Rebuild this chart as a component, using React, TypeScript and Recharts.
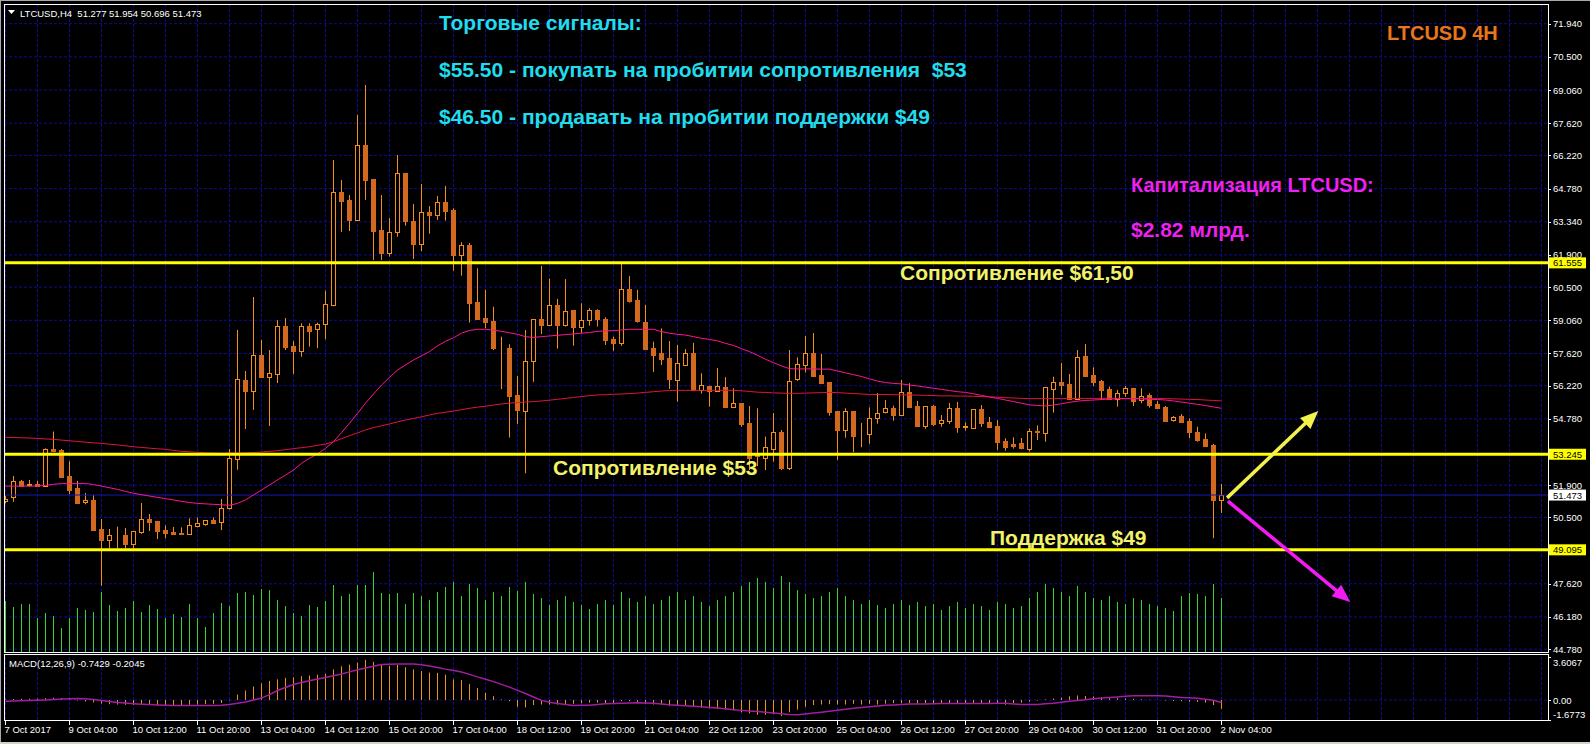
import React from 'react';
import { ComposedChart, Bar, Line, XAxis, YAxis, CartesianGrid, ReferenceLine } from 'recharts';

// ---------- DATA ----------
const OPEN = [51.20,51.37,52.07,51.93,51.95,51.88,53.49,53.43,52.31,51.78,51.16,51.26,50.00,49.53,49.72,49.74,49.36,49.88,50.43,50.35,
49.95,49.88,49.82,49.77,50.14,50.23,50.37,50.30,50.90,53.05,56.47,56.00,57.55,56.61,56.74,58.81,57.96,57.74,58.81,58.67,
58.89,59.73,64.62,64.29,63.43,66.66,65.20,62.97,61.99,62.91,65.44,63.38,62.39,63.75,63.65,64.19,63.85,61.91,62.32,59.85,
59.15,59.03,57.90,57.85,55.82,55.14,57.28,59.10,58.86,59.71,58.86,59.50,58.79,59.09,59.50,59.10,58.25,58.09,60.43,59.94,
58.99,57.86,57.64,57.43,56.48,57.13,57.63,56.04,56.20,55.98,56.15,55.28,55.46,54.60,53.30,53.07,53.47,54.21,52.66,56.50,
57.13,57.63,56.67,56.37,55.12,54.31,55.11,54.11,54.11,54.80,55.07,55.24,54.96,55.93,55.34,54.47,55.34,54.59,54.70,55.24,
54.44,54.40,55.20,54.64,54.47,53.82,53.70,53.73,53.46,54.25,54.18,56.09,56.38,56.30,55.63,57.51,56.69,56.43,56.08,55.66,
55.89,56.11,55.60,55.82,55.43,55.31,54.72,54.91,54.69,54.21,53.91,53.65,51.277];
const HIGH = [51.43,52.30,52.13,52.13,52.09,53.50,54.23,53.47,52.94,52.09,51.56,51.48,50.43,50.00,50.10,50.04,49.91,51.13,50.65,50.35,
50.16,50.09,50.07,50.46,50.50,50.37,50.50,51.30,53.47,58.64,56.86,60.07,58.21,57.77,59.07,59.16,58.16,58.93,58.93,58.96,
60.35,66.02,65.15,64.50,67.98,69.28,65.20,64.50,63.50,66.24,65.44,64.11,64.98,64.02,64.46,64.89,63.92,62.45,62.42,61.32,
60.38,59.65,58.35,58.02,56.64,58.64,59.10,61.42,60.87,59.99,60.85,59.51,59.80,59.59,59.54,59.19,58.35,61.54,60.98,60.38,
59.73,58.13,58.71,58.16,57.99,57.81,58.08,56.76,56.22,56.99,56.59,56.11,55.46,55.34,55.24,54.01,55.03,54.30,57.77,57.45,
58.38,58.51,57.60,56.37,55.12,55.24,55.11,54.61,55.28,55.90,55.60,55.35,56.47,56.33,55.56,55.34,55.38,54.95,55.47,55.51,
54.63,55.20,55.38,54.86,54.73,53.94,53.98,53.95,54.37,54.50,56.15,56.61,57.21,56.73,57.77,58.03,57.02,56.47,56.18,56.04,
56.21,56.13,56.11,55.89,55.56,55.34,54.91,54.99,54.80,54.44,54.15,53.69,51.954];
const LOW = [51.11,51.18,51.84,51.84,51.84,51.82,53.36,52.25,51.51,51.13,51.07,49.91,47.54,49.16,49.16,49.16,49.16,49.79,49.91,49.56,
49.59,49.74,49.75,49.77,50.07,50.14,50.24,49.95,50.85,52.57,54.34,55.17,56.57,54.47,56.34,57.77,56.73,57.48,57.92,57.85,
58.24,59.67,62.90,62.94,63.43,64.29,61.68,61.68,61.83,62.69,63.17,61.72,62.07,62.82,63.42,63.39,61.21,61.00,58.97,59.12,
58.71,57.77,56.07,53.97,54.56,52.42,56.39,58.47,58.82,57.83,58.79,57.96,58.50,58.83,58.79,57.99,57.74,57.95,59.83,58.96,
57.77,56.82,57.12,56.08,55.53,57.08,56.04,55.88,55.31,55.95,55.27,55.28,54.44,52.56,52.73,52.56,52.92,52.56,52.56,56.43,
56.79,56.66,56.33,54.92,52.99,53.96,53.34,53.55,53.70,54.57,55.02,54.70,54.91,55.27,54.44,54.35,54.47,54.44,54.56,54.18,
54.27,54.40,54.43,54.43,53.43,53.40,53.49,53.46,53.36,53.86,53.79,55.05,55.83,55.63,55.60,56.66,56.20,55.60,55.63,55.31,
55.74,55.34,55.46,55.27,55.24,54.66,54.66,54.65,53.94,53.79,53.60,49.60,50.696];
const CLOSE = [51.29,52.07,51.88,51.95,51.86,53.47,53.40,52.27,51.69,51.14,51.26,49.95,49.52,49.74,49.74,49.36,49.91,50.43,50.32,49.93,
49.82,49.78,49.77,50.16,50.26,50.37,50.26,50.92,53.08,56.50,55.99,57.55,56.60,56.77,58.81,57.89,57.74,58.80,58.61,58.89,
59.76,64.62,64.25,63.43,66.66,65.17,62.95,61.99,62.88,65.44,63.39,62.39,63.75,63.65,64.19,63.82,61.91,62.32,59.82,59.12,
59.00,57.87,57.88,55.79,55.17,57.28,59.10,58.86,59.71,58.86,59.45,58.79,59.07,59.50,59.10,58.21,58.09,60.43,59.90,59.03,
57.81,57.55,57.38,56.51,57.19,57.63,56.04,56.24,55.98,56.20,55.30,55.46,54.56,53.08,53.17,53.55,54.20,52.63,56.41,57.15,
57.63,56.66,56.35,55.09,54.30,55.11,54.05,54.12,54.80,55.05,55.24,54.95,55.93,55.31,54.47,55.34,54.56,54.73,55.24,54.43,
54.45,55.20,54.61,54.43,53.79,53.56,53.59,53.50,54.24,54.20,56.15,56.38,56.26,55.63,57.45,56.66,56.40,56.04,55.66,55.89,
56.11,55.56,55.79,55.38,55.27,54.70,54.85,54.66,54.23,53.86,53.62,51.26,51.473];
const VOLUME = [510,450,480,480,340,390,360,240,340,440,420,400,600,470,410,440,510,400,470,430,
340,380,350,480,340,250,390,490,460,590,600,570,630,620,520,460,390,360,470,450,
510,670,560,580,670,670,800,590,580,590,480,590,560,520,600,650,700,560,680,640,
520,600,560,650,610,700,580,540,470,520,560,500,470,430,480,520,470,600,540,500,
560,480,520,560,600,520,560,500,460,520,560,600,660,700,740,700,640,760,700,620,
580,540,560,600,640,560,520,480,520,470,440,480,520,470,500,460,480,420,460,500,
440,480,460,420,500,480,440,460,540,600,680,640,600,560,660,600,540,520,560,500,
480,540,520,480,460,440,410,560,590,580,560,680,540];
const MA_FAST = [51.86,51.86,51.86,51.86,51.87,51.89,51.94,51.97,51.97,51.97,51.97,51.93,51.86,51.79,51.72,51.63,51.55,51.49,51.43,51.37,
51.32,51.26,51.20,51.15,51.11,51.09,51.07,51.05,51.03,51.11,51.26,51.48,51.69,51.91,52.13,52.34,52.56,52.85,53.07,53.26,
53.50,53.79,54.18,54.59,55.02,55.46,55.86,56.25,56.58,56.90,57.12,57.34,57.52,57.70,57.95,58.15,58.30,58.50,58.62,58.67,
58.67,58.63,58.58,58.52,58.45,58.35,58.32,58.35,58.38,58.41,58.44,58.47,58.50,58.53,58.58,58.60,58.61,58.64,58.67,58.67,
58.67,58.67,58.57,58.50,58.45,58.42,58.35,58.28,58.23,58.17,58.06,57.97,57.83,57.70,57.54,57.37,57.22,57.08,56.96,56.95,
56.95,56.95,56.94,56.94,56.86,56.78,56.70,56.62,56.52,56.42,56.36,56.32,56.30,56.25,56.21,56.16,56.11,56.06,56.01,55.96,
55.93,55.87,55.80,55.73,55.67,55.60,55.53,55.46,55.39,55.36,55.34,55.38,55.44,55.50,55.55,55.58,55.60,55.62,55.64,55.65,
55.66,55.66,55.65,55.63,55.62,55.60,55.56,55.51,55.46,55.41,55.36,55.30,55.24];
const MA_SLOW = [53.98,53.97,53.96,53.95,53.93,53.91,53.89,53.86,53.83,53.80,53.77,53.74,53.72,53.68,53.65,53.61,53.57,53.54,53.51,53.48,
53.46,53.41,53.37,53.35,53.33,53.31,53.30,53.29,53.30,53.30,53.31,53.32,53.34,53.37,53.40,53.44,53.49,53.53,53.57,53.63,
53.69,53.79,53.92,54.05,54.17,54.30,54.40,54.48,54.56,54.65,54.73,54.80,54.87,54.95,55.02,55.07,55.12,55.18,55.24,55.29,
55.33,55.38,55.43,55.46,55.49,55.51,55.53,55.56,55.59,55.63,55.67,55.71,55.75,55.79,55.82,55.83,55.85,55.86,55.88,55.90,
55.93,55.96,55.99,56.01,56.02,56.02,56.02,56.02,56.02,56.02,56.02,56.02,56.00,55.97,55.94,55.93,55.91,55.90,55.89,55.89,
55.90,55.91,55.92,55.93,55.92,55.90,55.88,55.86,55.84,55.84,55.84,55.83,55.82,55.82,55.81,55.80,55.79,55.78,55.78,55.77,
55.77,55.76,55.75,55.74,55.72,55.70,55.69,55.67,55.66,55.66,55.66,55.66,55.66,55.66,55.67,55.67,55.67,55.67,55.67,55.67,
55.66,55.66,55.66,55.66,55.66,55.66,55.65,55.64,55.63,55.62,55.60,55.58,55.56];
const MACD_MAIN = [0.05,0.08,0.10,0.10,0.12,0.16,0.18,0.16,0.12,-0.05,-0.12,-0.20,-0.30,-0.35,-0.38,-0.40,-0.42,-0.40,-0.42,-0.44,
-0.45,-0.44,-0.42,-0.40,-0.38,-0.35,-0.32,-0.25,-0.05,0.45,0.80,1.13,1.40,1.60,1.73,1.86,1.90,2.00,2.05,2.13,
2.20,2.56,2.83,2.97,3.13,3.37,3.20,2.97,2.86,2.94,2.75,2.56,2.43,2.30,2.27,2.13,1.73,1.67,1.35,1.00,
0.59,0.32,0.05,-0.10,-0.57,-0.62,-0.43,-0.38,-0.38,-0.38,-0.35,-0.32,-0.27,-0.22,-0.22,-0.27,-0.32,-0.10,-0.10,-0.22,
-0.32,-0.38,-0.40,-0.49,-0.49,-0.49,-0.59,-0.65,-0.70,-0.76,-0.81,-0.86,-1.03,-1.13,-1.24,-1.24,-1.19,-1.35,-1.03,-0.81,
-0.57,-0.43,-0.38,-0.35,-0.38,-0.38,-0.32,-0.38,-0.32,-0.38,-0.30,-0.27,-0.27,-0.28,-0.30,-0.28,-0.30,-0.28,-0.27,-0.30,
-0.30,-0.27,-0.28,-0.30,-0.32,-0.40,-0.27,-0.22,-0.12,-0.05,0.05,0.12,0.20,0.30,0.38,0.34,0.30,0.22,0.16,0.15,
0.12,0.10,0.06,0.03,0.01,-0.05,-0.08,-0.10,-0.14,-0.16,-0.22,-0.43,-0.7429];
const MACD_SIGNAL = [-0.10,-0.08,-0.06,-0.05,-0.03,0.00,0.04,0.08,0.10,0.12,0.10,0.04,-0.04,-0.12,-0.20,-0.26,-0.31,-0.35,-0.38,-0.41,
-0.44,-0.46,-0.46,-0.46,-0.46,-0.46,-0.46,-0.44,-0.38,-0.28,-0.16,0.00,0.16,0.45,0.80,1.05,1.30,1.47,1.62,1.76,
1.89,2.03,2.18,2.36,2.54,2.69,2.83,2.97,3.00,3.02,3.03,3.02,2.95,2.86,2.73,2.59,2.47,2.35,2.15,1.94,
1.74,1.54,1.31,1.08,0.81,0.54,0.25,-0.03,-0.18,-0.30,-0.38,-0.46,-0.45,-0.43,-0.38,-0.32,-0.30,-0.27,-0.25,-0.24,
-0.25,-0.27,-0.33,-0.40,-0.45,-0.49,-0.53,-0.57,-0.62,-0.67,-0.74,-0.81,-0.87,-0.92,-0.97,-1.02,-1.09,-1.16,-1.21,-1.24,
-1.17,-1.10,-1.02,-0.94,-0.85,-0.77,-0.70,-0.63,-0.56,-0.50,-0.45,-0.41,-0.37,-0.33,-0.33,-0.33,-0.31,-0.30,-0.30,-0.30,
-0.30,-0.30,-0.30,-0.30,-0.28,-0.27,-0.33,-0.38,-0.38,-0.38,-0.32,-0.27,-0.19,-0.11,-0.04,0.03,0.10,0.16,0.20,0.25,
0.31,0.36,0.36,0.36,0.35,0.33,0.28,0.22,0.18,0.14,0.06,-0.03,-0.2045];
const TIME_LABELS = ['7 Oct 2017','9 Oct 04:00','10 Oct 12:00','11 Oct 20:00','13 Oct 04:00','14 Oct 12:00','15 Oct 20:00',
'17 Oct 04:00','18 Oct 12:00','19 Oct 20:00','21 Oct 04:00','22 Oct 12:00','23 Oct 20:00','25 Oct 04:00','26 Oct 12:00',
'27 Oct 20:00','29 Oct 04:00','30 Oct 12:00','31 Oct 20:00','2 Nov 04:00'];
const PRICE_TICKS = [71.94,70.5,69.06,67.62,66.22,64.78,63.34,61.9,60.5,59.06,57.62,56.22,54.78,51.9,50.5,47.62,46.18,44.78];
const RESISTANCE_HIGH = 61.555;
const RESISTANCE_LOW = 53.245;
const SUPPORT = 49.095;
const LAST_PRICE = 51.473;
const HEADER_OHLC = '51.277 51.954 50.696 51.473';
const MACD_HEADER = 'MACD(12,26,9) -0.7429 -0.2045';
const MACD_MAX = 3.6067;
const MACD_MIN = -1.6773;
const ARROW_UP = [{ x: 152.7, y: 51.35 }, { x: 164.1, y: 55.12 }];
const ARROW_DOWN = [{ x: 152.8, y: 51.21 }, { x: 168.1, y: 46.83 }];

// ---------- STYLE ----------
const FONT = 'Liberation Sans, Arial, sans-serif';
const WICK = '#F39019';
const BEAR = '#D2691E';
const VOL = '#32D232';
const GRID = '#0c0c96';
const X_DOMAIN: [number, number] = [-0.1875, 192.8125];
const PRICE_DOMAIN: [number, number] = [44.658, 72.795];

const rows = OPEN.map((o, i) => ({
  i, open: o, high: HIGH[i], low: LOW[i], close: CLOSE[i], vol: VOLUME[i],
  maFast: MA_FAST[i], maSlow: MA_SLOW[i], macd: MACD_MAIN[i], signal: MACD_SIGNAL[i],
}));
const VGRID = Array.from({ length: 49 }, (_, m) => m * 4);
const LABEL_K = TIME_LABELS.map((_, j) => j * 8);
const ALL_TICKS = [...PRICE_TICKS, RESISTANCE_HIGH, RESISTANCE_LOW, SUPPORT, LAST_PRICE];
const HILITE: Record<string, string> = {
  [RESISTANCE_HIGH.toFixed(3)]: '#FFFF00', [RESISTANCE_LOW.toFixed(3)]: '#FFFF00',
  [SUPPORT.toFixed(3)]: '#FFFF00', [LAST_PRICE.toFixed(3)]: '#FFFFFF',
};

function Candle(props: any) {
  const { x, y, width, height, payload } = props;
  if (payload == null || x == null || y == null) return <g />;
  const cx = Math.floor(x + width / 2) + 0.5;
  const { open, close, high, low } = payload;
  const h = Math.abs(height);
  const top = height >= 0 ? y : y + height;
  const py = (p: number) => (high === low ? top : top + ((high - p) / (high - low)) * h);
  const yo = py(open), yc = py(close);
  const bull = close >= open;
  const bt = Math.round(Math.min(yo, yc)) + 0.5;
  const bb = Math.round(Math.max(yo, yc)) + 0.5;
  return (
    <g>
      <line x1={cx} x2={cx} y1={top} y2={top + h} stroke={WICK} strokeWidth={1} />
      <rect x={cx - 2} y={bt} width={4} height={Math.max(bb - bt, 0)} fill={bull ? '#000' : BEAR}
        stroke={bull ? WICK : BEAR} strokeWidth={1} />
    </g>
  );
}

function Stick(color: string) {
  return (props: any) => {
    const { x, y, width, height } = props;
    if (x == null || y == null) return <g />;
    const cx = Math.floor(x + width / 2) + 0.5;
    const a = Math.min(y, y + height), b = Math.max(y, y + height);
    return <line x1={cx} x2={cx} y1={a} y2={b} stroke={color} strokeWidth={1} />;
  };
}
const VolBar = Stick(VOL);
const MacdBar = Stick('#F39019');

function makeArrow(color: string) {
  return (p: any) => {
    const { x1, y1, x2, y2 } = p;
    if (x1 == null) return <g />;
    const ang = Math.atan2(y2 - y1, x2 - x1);
    const L = 18, W = 7.5;
    const bx = x2 - L * Math.cos(ang), by = y2 - L * Math.sin(ang);
    const px = -Math.sin(ang) * W, pyy = Math.cos(ang) * W;
    return (
      <g>
        <line x1={x1} y1={y1} x2={bx + 2 * Math.cos(ang)} y2={by + 2 * Math.sin(ang)} stroke={color} strokeWidth={3.5} />
        <polygon points={`${x2},${y2} ${bx + px},${by + pyy} ${bx - px},${by - pyy}`} fill={color} />
      </g>
    );
  };
}

function PriceTick(props: any) {
  const { x, y, payload } = props;
  const v = payload.value as number;
  const label = v.toFixed(3);
  const bg = HILITE[label];
  if (bg) {
    return (
      <g>
        <rect x={x + 1} y={y - 5.5} width={37} height={11} fill={bg} />
        <text x={x + 5} y={y + 3.5} fontSize={9.5} fontFamily={FONT} fill="#000">{label}</text>
      </g>
    );
  }
  return (
    <g>
      <line x1={x} x2={x + 3} y1={Math.round(y) + 0.5} y2={Math.round(y) + 0.5} stroke="#fff" />
      <text x={x + 5} y={y + 3.5} fontSize={9.5} fontFamily={FONT} fill="#fff">{label}</text>
    </g>
  );
}

function MacdTick(props: any) {
  const { x, y, payload } = props;
  const v = payload.value as number;
  let label = v.toFixed(4);
  let ty = y + 3.5;
  if (v === 0) label = '0.00';
  if (v === MACD_MAX) ty = y + 8.5;
  if (v === MACD_MIN) ty = y - 2.5;
  return (
    <g>
      <line x1={x} x2={x + 3} y1={Math.round(y) + 0.5} y2={Math.round(y) + 0.5} stroke="#fff" />
      <text x={x + 5} y={ty} fontSize={9.5} fontFamily={FONT} fill="#fff">{label}</text>
    </g>
  );
}

function TimeTick(props: any) {
  const { x, y, payload } = props;
  const idx = Math.round(payload.value / 8);
  const tx = Math.floor(x) + 0.5;
  return (
    <g>
      <line x1={tx} x2={tx} y1={y + 1} y2={y + 5} stroke="#fff" />
      <text x={x - 1} y={y + 12.5} fontSize={9.5} fontFamily={FONT} fill="#fff">{TIME_LABELS[idx]}</text>
    </g>
  );
}

function MainPane() {
  return (
    <ComposedChart width={1590} height={660} data={rows} margin={{ top: 4, right: 0, bottom: 8, left: 4 }}>
      <CartesianGrid stroke={GRID} strokeDasharray="3 2" horizontalValues={PRICE_TICKS} verticalValues={VGRID} />
      <XAxis xAxisId={0} type="number" dataKey="i" domain={X_DOMAIN} allowDataOverflow hide />
      <XAxis xAxisId="vx" type="number" dataKey="i" domain={X_DOMAIN} allowDataOverflow hide />
      <YAxis yAxisId={0} orientation="right" type="number" domain={PRICE_DOMAIN} allowDataOverflow ticks={ALL_TICKS}
        interval={0} width={42} tick={PriceTick} tickLine={false} axisLine={false} tickSize={0} tickMargin={0} />
      <YAxis yAxisId="v" type="number" domain={[0, 6480]} allowDataOverflow hide />
      <Bar xAxisId="vx" yAxisId="v" dataKey="vol" barSize={1} shape={VolBar} isAnimationActive={false} />
      <ReferenceLine y={LAST_PRICE} stroke="#1818b0" strokeWidth={1} />
      <Line dataKey="maSlow" stroke="#E0163C" strokeWidth={1} dot={false} isAnimationActive={false} />
      <Line dataKey="maFast" stroke="#FF1493" strokeWidth={1} dot={false} isAnimationActive={false} />
      <ReferenceLine y={RESISTANCE_HIGH} stroke="#FFFF00" strokeWidth={3} />
      <ReferenceLine y={RESISTANCE_LOW} stroke="#FFFF00" strokeWidth={3} />
      <ReferenceLine y={SUPPORT} stroke="#FFFF00" strokeWidth={3} />
      <Bar dataKey={(d: any) => [d.low, d.high]} barSize={5} shape={Candle} isAnimationActive={false} />
      <ReferenceLine segment={ARROW_UP} shape={makeArrow('#F2F24A')} />
      <ReferenceLine segment={ARROW_DOWN} shape={makeArrow('#F21CF2')} />
    </ComposedChart>
  );
}

function MacdPane() {
  return (
    <ComposedChart width={1590} height={104} data={rows} margin={{ top: 17, right: 0, bottom: 0, left: 4 }}>
      <CartesianGrid stroke={GRID} strokeDasharray="3 2" horizontalValues={[0]} verticalValues={VGRID} />
      <XAxis type="number" dataKey="i" domain={X_DOMAIN} allowDataOverflow ticks={LABEL_K} interval={0}
        tick={TimeTick} tickLine={false} axisLine={false} height={24} tickSize={0} tickMargin={0} />
      <YAxis orientation="right" type="number" domain={[MACD_MIN, MACD_MAX]} allowDataOverflow
        ticks={[MACD_MAX, 0, MACD_MIN]} interval={0} width={42} tick={MacdTick} tickLine={false}
        axisLine={false} tickSize={0} tickMargin={0} />
      <Bar dataKey="macd" barSize={1} shape={MacdBar} isAnimationActive={false} />
      <Line dataKey="signal" stroke="#A01EA0" strokeWidth={1.5} dot={false} isAnimationActive={false} />
    </ComposedChart>
  );
}

const BIG = { fontFamily: FONT, fontWeight: 700, fontSize: 21 } as const;
const MID = { fontFamily: FONT, fontWeight: 700, fontSize: 20 } as const;

export default function App() {
  return (
    <div style={{ position: 'absolute', left: 0, top: 0, width: 1590, height: 744, background: '#000', overflow: 'hidden' }}>
      <div style={{ position: 'absolute', left: 0, top: 0 }}><MainPane /></div>
      <div style={{ position: 'absolute', left: 0, top: 640 }}><MacdPane /></div>
      <svg width={1590} height={744} style={{ position: 'absolute', left: 0, top: 0, pointerEvents: 'none' }}>
        <rect x={0} y={0} width={4} height={744} fill="#000" />
        <line x1={0.5} y1={0} x2={0.5} y2={744} stroke="#A8A8A8" />
        <line x1={0} y1={0.5} x2={1590} y2={0.5} stroke="#A8A8A8" />
        <rect x={0} y={742} width={1590} height={2} fill="#D4D0C8" />
        <rect x={4.5} y={4.5} width={1544} height={648} fill="none" stroke="#fff" />
        <rect x={4.5} y={654.5} width={1544} height={66} fill="none" stroke="#fff" />
        <polygon points="8,10 15,10 11.5,14" fill="#fff" />
        <text x={20} y={16.5} fontSize={9.5} fontFamily={FONT} fill="#fff" style={{ whiteSpace: 'pre' }}>{`LTCUSD,H4  ${HEADER_OHLC}`}</text>
        <text x={9} y={666.5} fontSize={9.5} fontFamily={FONT} fill="#fff">{MACD_HEADER}</text>
        <text x={439} y={30} {...BIG} fill="#20DDEE">Торговые сигналы:</text>
        <text x={439} y={77} {...BIG} fill="#20DDEE" style={{ whiteSpace: 'pre' }}>$55.50 - покупать на пробитии сопротивления  $53</text>
        <text x={439} y={124} {...BIG} fill="#20DDEE">$46.50 - продавать на пробитии поддержки $49</text>
        <text x={1387} y={39.5} {...MID} fill="#E8761C">LTCUSD 4H</text>
        <text x={1131} y={191.5} {...MID} fill="#EE22EE">Капитализация LTCUSD:</text>
        <text x={1131} y={237} {...BIG} fill="#EE22EE">$2.82 млрд.</text>
        <text x={900} y={280} {...BIG} fill="#F2F26A">Сопротивление $61,50</text>
        <text x={553} y={475} {...BIG} fill="#F2F26A">Сопротивление $53</text>
        <text x={990} y={545} {...BIG} fill="#F2F26A">Поддержка $49</text>
      </svg>
    </div>
  );
}
